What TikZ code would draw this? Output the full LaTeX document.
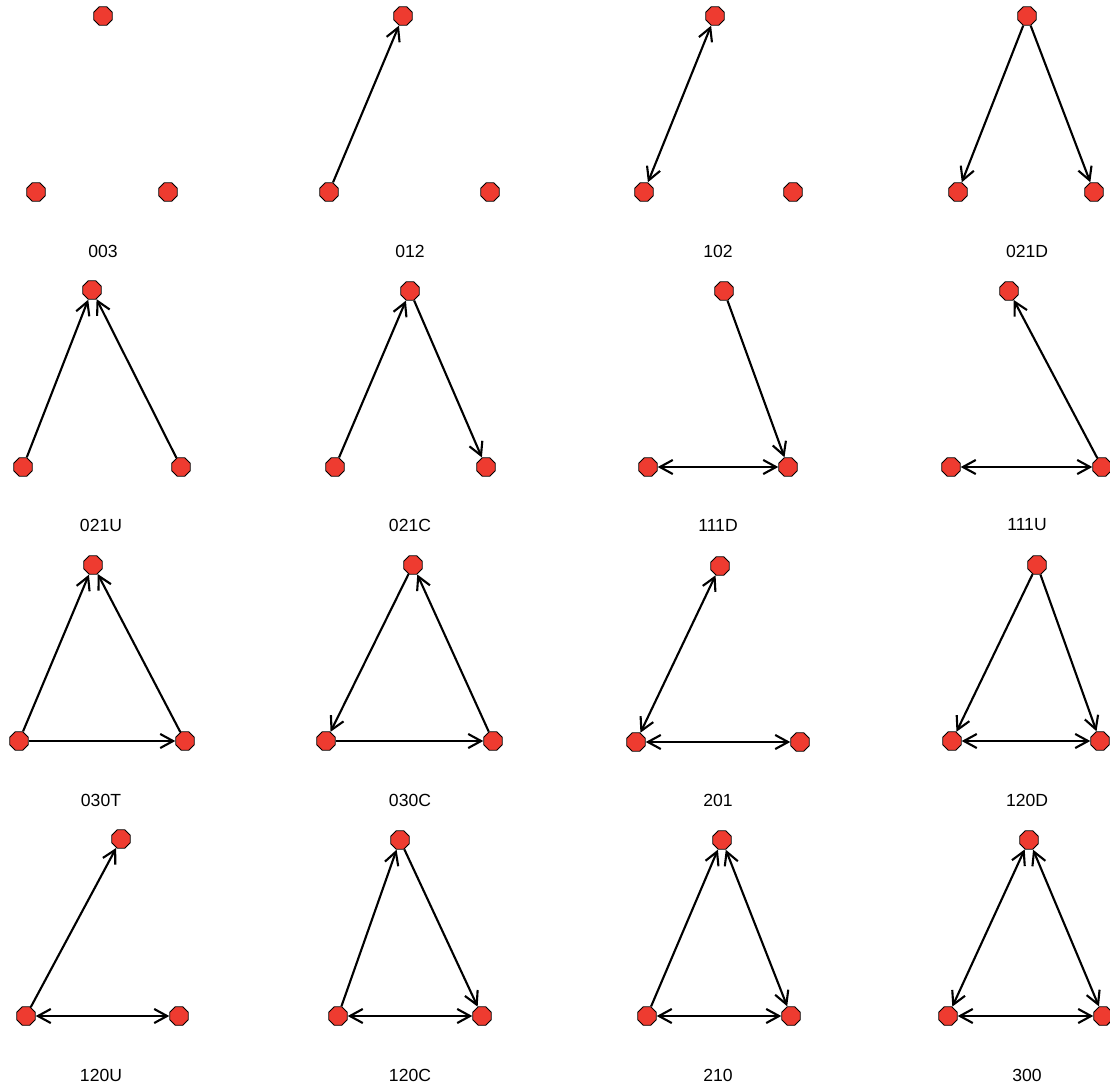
\documentclass[tikz,border=0pt]{standalone}
\usepackage{fontspec}
\setmainfont{Liberation Sans}
\usetikzlibrary{arrows.meta,shapes.geometric}

\definecolor{vtxred}{HTML}{EE3B30}

\begin{document}
\begin{tikzpicture}[x=0.03cm, y=-0.03cm,
    vtx/.style={regular polygon, regular polygon sides=8, draw=black, line width=0.8pt,
                fill=vtxred, minimum size=0.6cm, inner sep=0pt},
    lbl/.style={font=\fontsize{15}{18}\selectfont},
    arc/.style={-{Straight Barb[length=11pt, width=12pt]}, line width=1.8pt},
    both/.style={{Straight Barb[length=11pt, width=12pt]}-{Straight Barb[length=11pt, width=12pt]}, line width=1.8pt}]
    \useasboundingbox (0,0) rectangle (1110,1085);

    % =========================================================
    % RIGA 1: 003, 012, 102, 021D
    % =========================================================
    % 003
    \node[vtx] (t003) at (103, 16) {};
    \node[vtx] (l003) at (36, 192) {};
    \node[vtx] (r003) at (168, 192) {};
    \node[lbl] (n003) at (103, 251) {003};

    % 012
    \node[vtx] (t012) at (403, 16) {};
    \node[vtx] (l012) at (329, 192) {};
    \node[vtx] (r012) at (490, 192) {};
    \node[lbl] (n012) at (410, 251) {012};
    \draw[arc] (l012) -- (t012);

    % 102
    \node[vtx] (t102) at (715, 16) {};
    \node[vtx] (l102) at (644, 192) {};
    \node[vtx] (r102) at (793, 192) {};
    \node[lbl] (n102) at (718, 251) {102};
    \draw[both] (l102) -- (t102);

    % 021D
    \node[vtx] (t021D) at (1027, 16) {};
    \node[vtx] (l021D) at (958, 192) {};
    \node[vtx] (r021D) at (1094, 192) {};
    \node[lbl] (n021D) at (1027, 251) {021D};
    \draw[arc] (t021D) -- (l021D);
    \draw[arc] (t021D) -- (r021D);

    % =========================================================
    % RIGA 2: 021U, 021C, 111D, 111U
    % =========================================================
    % 021U
    \node[vtx] (t021U) at (92, 290) {};
    \node[vtx] (l021U) at (23, 467) {};
    \node[vtx] (r021U) at (181, 467) {};
    \node[lbl] (n021U) at (101, 525) {021U};
    \draw[arc] (l021U) -- (t021U);
    \draw[arc] (r021U) -- (t021U);

    % 021C
    \node[vtx] (t021C) at (410, 291) {};
    \node[vtx] (l021C) at (335, 467) {};
    \node[vtx] (r021C) at (486, 467) {};
    \node[lbl] (n021C) at (410, 525) {021C};
    \draw[arc] (l021C) -- (t021C);
    \draw[arc] (t021C) -- (r021C);

    % 111D
    \node[vtx] (t111D) at (724, 291) {};
    \node[vtx] (l111D) at (648, 467) {};
    \node[vtx] (r111D) at (788, 467) {};
    \node[lbl] (n111D) at (718, 525) {111D};
    \draw[arc] (t111D) -- (r111D);
    \draw[both] (l111D) -- (r111D);

    % 111U
    \node[vtx] (t111U) at (1009, 291) {};
    \node[vtx] (l111U) at (951, 467) {};
    \node[vtx] (r111U) at (1102, 467) {};
    \node[lbl] (n111U) at (1027, 525) {111U};
    \draw[arc] (r111U) -- (t111U);
    \draw[both] (l111U) -- (r111U);

    % =========================================================
    % RIGA 3: 030T, 030C, 201, 120D
    % =========================================================
    % 030T
    \node[vtx] (t030T) at (93, 565) {};
    \node[vtx] (l030T) at (19, 741) {};
    \node[vtx] (r030T) at (185, 741) {};
    \node[lbl] (n030T) at (101, 800) {030T};
    \draw[arc] (l030T) -- (t030T);
    \draw[arc] (r030T) -- (t030T);
    \draw[arc] (l030T) -- (r030T);

    % 030C
    \node[vtx] (t030C) at (413, 565) {};
    \node[vtx] (l030C) at (326, 741) {};
    \node[vtx] (r030C) at (493, 741) {};
    \node[lbl] (n030C) at (410, 800) {030C};
    \draw[arc] (t030C) -- (l030C);
    \draw[arc] (l030C) -- (r030C);
    \draw[arc] (r030C) -- (t030C);

    % 201
    \node[vtx] (t201) at (720, 566) {};
    \node[vtx] (l201) at (636, 742) {};
    \node[vtx] (r201) at (800, 742) {};
    \node[lbl] (n201) at (718, 800) {201};
    \draw[both] (l201) -- (t201);
    \draw[both] (l201) -- (r201);

    % 120D
    \node[vtx] (t120D) at (1037, 565) {};
    \node[vtx] (l120D) at (952, 741) {};
    \node[vtx] (r120D) at (1100, 741) {};
    \node[lbl] (n120D) at (1027, 800) {120D};
    \draw[arc] (t120D) -- (l120D);
    \draw[arc] (t120D) -- (r120D);
    \draw[both] (l120D) -- (r120D);

    % =========================================================
    % RIGA 4: 120U, 120C, 210, 300
    % =========================================================
    % 120U
    \node[vtx] (t120U) at (121, 839) {};
    \node[vtx] (l120U) at (26, 1016) {};
    \node[vtx] (r120U) at (179, 1016) {};
    \node[lbl] (n120U) at (101, 1075) {120U};
    \draw[arc] (l120U) -- (t120U);
    \draw[both] (l120U) -- (r120U);

    % 120C
    \node[vtx] (t120C) at (400, 840) {};
    \node[vtx] (l120C) at (338, 1016) {};
    \node[vtx] (r120C) at (482, 1016) {};
    \node[lbl] (n120C) at (410, 1075) {120C};
    \draw[arc] (l120C) -- (t120C);
    \draw[arc] (t120C) -- (r120C);
    \draw[both] (l120C) -- (r120C);

    % 210
    \node[vtx] (t210) at (722, 840) {};
    \node[vtx] (l210) at (647, 1016) {};
    \node[vtx] (r210) at (791, 1016) {};
    \node[lbl] (n210) at (718, 1075) {210};
    \draw[arc] (l210) -- (t210);
    \draw[both] (t210) -- (r210);
    \draw[both] (l210) -- (r210);

    % 300
    \node[vtx] (t300) at (1029, 840) {};
    \node[vtx] (l300) at (948, 1016) {};
    \node[vtx] (r300) at (1103, 1016) {};
    \node[lbl] (n300) at (1027, 1075) {300};
    \draw[both] (l300) -- (t300);
    \draw[both] (t300) -- (r300);
    \draw[both] (l300) -- (r300);
\end{tikzpicture}
\end{document}
